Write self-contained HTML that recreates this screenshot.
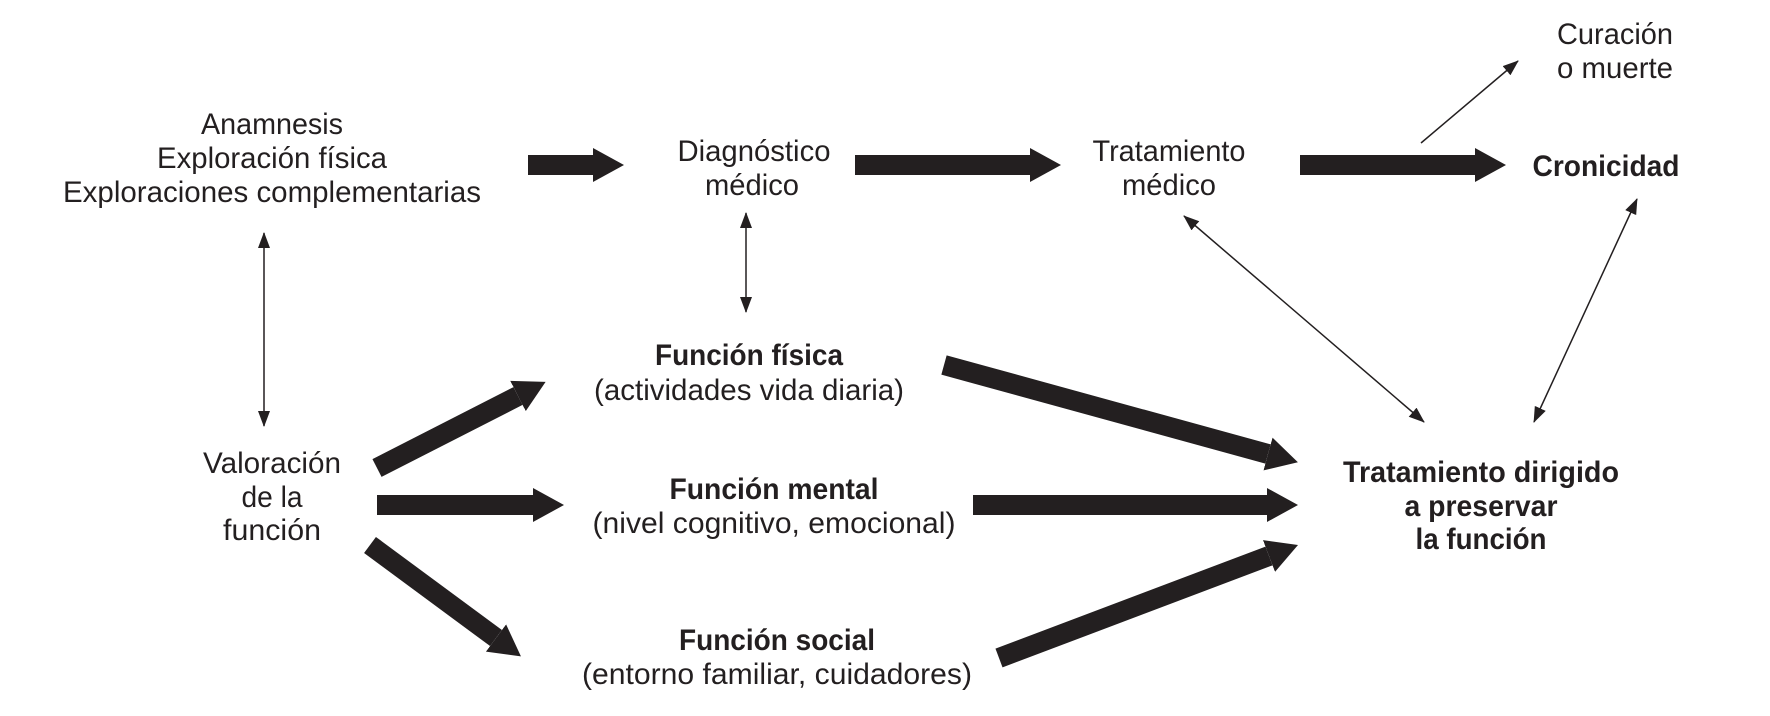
<!DOCTYPE html>
<html><head><meta charset="utf-8"><style>
html,body{margin:0;padding:0;background:#fff;}
svg{display:block;}
text{font-family:"Liberation Sans",sans-serif;font-size:30px;fill:#231f20;}
.b{font-weight:bold;}
</style></head><body>
<svg width="1770" height="716" viewBox="0 0 1770 716" xmlns="http://www.w3.org/2000/svg">
<defs>
<marker id="H" markerUnits="userSpaceOnUse" markerWidth="40" markerHeight="40" refX="0" refY="18" orient="auto" viewBox="0 0 40 36">
<path d="M0,1 L31,18 L0,35 z" fill="#231f20"/></marker>
<marker id="t" markerUnits="userSpaceOnUse" markerWidth="16" markerHeight="12" refX="15" refY="6" orient="auto" viewBox="0 0 16 12">
<path d="M0,0 L16,6 L0,12 z" fill="#231f20"/></marker>
<marker id="ts" markerUnits="userSpaceOnUse" markerWidth="16" markerHeight="12" refX="1" refY="6" orient="auto" viewBox="0 0 16 12">
<path d="M16,0 L0,6 L16,12 z" fill="#231f20"/></marker>
</defs>
<g stroke="#231f20" stroke-width="20" marker-end="url(#H)">
<line x1="528" y1="165" x2="593" y2="165"/>
<line x1="855" y1="165" x2="1030" y2="165"/>
<line x1="1300" y1="165" x2="1475" y2="165"/>
<line x1="377" y1="468" x2="518" y2="396"/>
<line x1="377" y1="505" x2="533" y2="505"/>
<line x1="370" y1="545" x2="496" y2="638"/>
<line x1="944" y1="365" x2="1268" y2="454"/>
<line x1="973" y1="505" x2="1267" y2="505"/>
<line x1="999" y1="658" x2="1269" y2="556"/>
</g>
<g stroke="#231f20" stroke-width="1.5" fill="none">
<line x1="1421" y1="143" x2="1518" y2="61" marker-end="url(#t)"/>
<line x1="264" y1="233" x2="264" y2="426" marker-start="url(#ts)" marker-end="url(#t)"/>
<line x1="746" y1="213" x2="746" y2="312" marker-start="url(#ts)" marker-end="url(#t)"/>
<line x1="1184" y1="216" x2="1424" y2="422" marker-start="url(#ts)" marker-end="url(#t)"/>
<line x1="1637" y1="199" x2="1534" y2="422" marker-start="url(#ts)" marker-end="url(#t)"/>
</g>
<g text-anchor="middle">
<text x="272" y="134" textLength="142" lengthAdjust="spacingAndGlyphs">Anamnesis</text>
<text x="272" y="168" textLength="230" lengthAdjust="spacingAndGlyphs">Exploración física</text>
<text x="272" y="202" textLength="418" lengthAdjust="spacingAndGlyphs">Exploraciones complementarias</text>
<text x="754" y="161" textLength="153" lengthAdjust="spacingAndGlyphs">Diagnóstico</text>
<text x="752" y="195" textLength="94" lengthAdjust="spacingAndGlyphs">médico</text>
<text x="1169" y="161" textLength="153" lengthAdjust="spacingAndGlyphs">Tratamiento</text>
<text x="1169" y="195" textLength="94" lengthAdjust="spacingAndGlyphs">médico</text>
<text x="1615" y="44" textLength="116" lengthAdjust="spacingAndGlyphs">Curación</text>
<text x="1615" y="78" textLength="116" lengthAdjust="spacingAndGlyphs">o muerte</text>
<text class="b" x="1606" y="176" textLength="147" lengthAdjust="spacingAndGlyphs">Cronicidad</text>
<text class="b" x="749" y="365" textLength="188" lengthAdjust="spacingAndGlyphs">Función física</text>
<text x="749" y="400" textLength="310" lengthAdjust="spacingAndGlyphs">(actividades vida diaria)</text>
<text x="272" y="473" textLength="138" lengthAdjust="spacingAndGlyphs">Valoración</text>
<text x="272" y="507" textLength="61" lengthAdjust="spacingAndGlyphs">de la</text>
<text x="272" y="540" textLength="98" lengthAdjust="spacingAndGlyphs">función</text>
<text class="b" x="774" y="499" textLength="209" lengthAdjust="spacingAndGlyphs">Función mental</text>
<text x="774" y="533" textLength="363" lengthAdjust="spacingAndGlyphs">(nivel cognitivo, emocional)</text>
<text class="b" x="777" y="650" textLength="196" lengthAdjust="spacingAndGlyphs">Función social</text>
<text x="777" y="684" textLength="390" lengthAdjust="spacingAndGlyphs">(entorno familiar, cuidadores)</text>
<text class="b" x="1481" y="482" textLength="276" lengthAdjust="spacingAndGlyphs">Tratamiento dirigido</text>
<text class="b" x="1481" y="516" textLength="153" lengthAdjust="spacingAndGlyphs">a preservar</text>
<text class="b" x="1481" y="549" textLength="131" lengthAdjust="spacingAndGlyphs">la función</text>
</g>
</svg>
</body></html>
